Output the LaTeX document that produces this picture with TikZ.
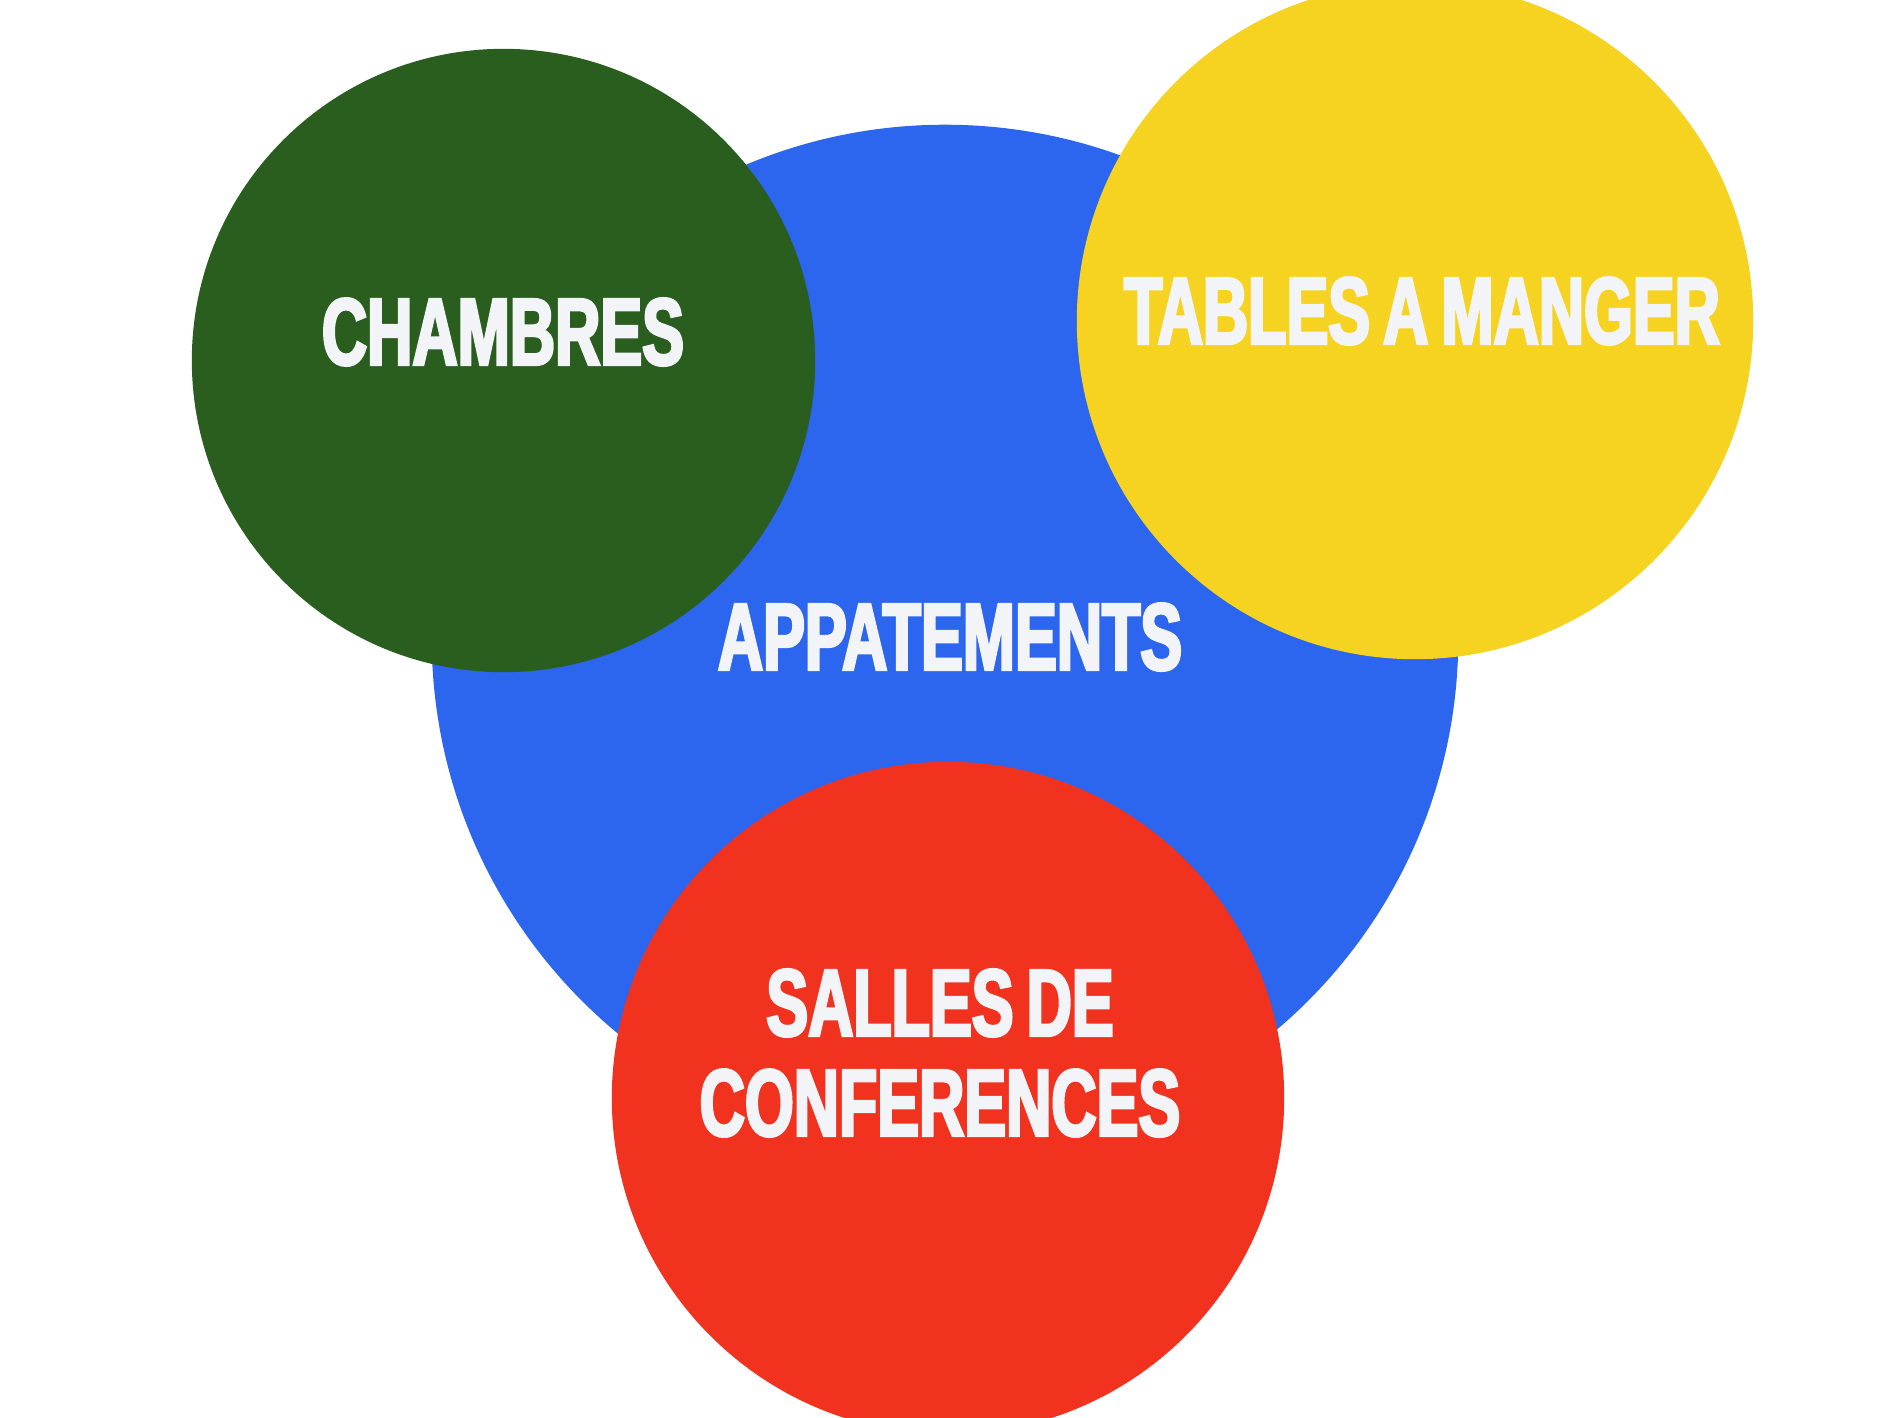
\documentclass[tikz,border=0pt]{standalone}
\usepackage{fontspec}
\newfontfamily\lbl{Liberation Sans Bold}[FakeStretch=0.66,FakeBold=3,WordSpace=0.75]
\definecolor{cblue}{HTML}{2D66EE}
\definecolor{cgreen}{HTML}{2A5E1E}
\definecolor{cyellow}{HTML}{F6D320}
\definecolor{cred}{HTML}{F0321F}
\definecolor{ctext}{HTML}{F3F4F8}
\begin{document}
\begin{tikzpicture}[x=0.01cm,y=-0.01cm,
  disc/.style={circle,inner sep=0pt,outer sep=0pt,draw=none},
  label/.style={text=ctext,align=center,inner sep=0pt,
    font=\lbl\fontsize{27}{28.45}\selectfont}]
\useasboundingbox (0,0) rectangle (1890,1417);
\begin{scope}
\clip (0,0) rectangle (1890,1417);
% main circle and the three satellites
\node[disc,fill=cblue,minimum size=10.26cm] (appart) at (945,638) {};
\node[disc,fill=cgreen,minimum size=6.23cm] (chamb) at (503.5,360.5) {};
\node[disc,fill=cyellow,minimum size=6.76cm] (tables) at (1415,321) {};
\node[disc,fill=cred,minimum size=6.72cm] (salles) at (948,1098) {};
\end{scope}
% captions
\node[label] (tchamb) at (503,332) {CHAMBRES};
\node[label] (ttables) at (1422,311) {TABLES A MANGER};
\node[label] (tappart) at (950,637) {APPATEMENTS};
\node[label] (tsalles) at (940,1053) {SALLES DE\\CONFERENCES};
\end{tikzpicture}
\end{document}
